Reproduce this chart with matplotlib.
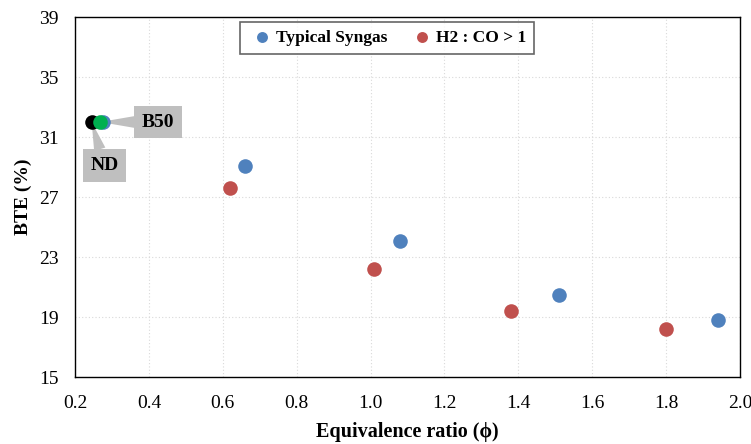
import matplotlib
matplotlib.use("Agg")
import matplotlib.pyplot as plt

typical_x = [0.275, 0.66, 1.08, 1.51, 1.94]
typical_y = [32.0, 29.1, 24.1, 20.5, 18.8]
h2co_x = [0.62, 1.01, 1.38, 1.80]
h2co_y = [27.6, 22.2, 19.4, 18.2]
nd_x, nd_y = [0.245], [32.0]
b50_x, b50_y = [0.268], [32.0]

xticks = [0.2, 0.4, 0.6, 0.8, 1.0, 1.2, 1.4, 1.6, 1.8, 2.0]
yticks = [15, 19, 23, 27, 31, 35, 39]

plt.rcParams['font.family'] = ['Liberation Serif', 'DejaVu Serif']

fig = plt.figure(figsize=(7.51, 4.44), dpi=100)
ax = fig.add_axes([0.0999, 0.1509, 0.8855, 0.8108])

ax.scatter(typical_x, typical_y, s=110, color='#4F81BD', zorder=3, label='Typical Syngas', linewidths=0)
ax.scatter(h2co_x, h2co_y, s=110, color='#C0504D', zorder=3, label='H2 : CO > 1', linewidths=0)
ax.scatter(nd_x, nd_y, s=110, color='black', zorder=4, linewidths=0)
ax.scatter(b50_x, b50_y, s=110, color='#00B050', zorder=5, linewidths=0)

ax.set_xlim(0.2, 2.0)
ax.set_ylim(15, 39)
ax.set_xticks(xticks)
ax.set_xticklabels([f"{v:.1f}" for v in xticks])
ax.set_yticks(yticks)
ax.tick_params(axis='x', length=0, labelsize=14, pad=13)
ax.tick_params(axis='y', length=0, labelsize=14, pad=12)
ax.grid(True, color='#d9d9d9', linestyle=(0, (1, 2)), linewidth=0.8)
ax.set_axisbelow(True)
for s in ax.spines.values():
    s.set_color('black')
    s.set_linewidth(1.0)

ax.set_xlabel('Equivalence ratio (ϕ)', fontsize=14.5, fontweight='bold', labelpad=7)
ax.set_ylabel('BTE (%)', fontsize=14, fontweight='bold', labelpad=5)

box = dict(boxstyle='square,pad=0.4', fc='#bfbfbf', ec='none')
ax.annotate('B50', xy=(b50_x[0], b50_y[0]), xytext=(0.425, 32.0), fontsize=14, fontweight='bold',
            ha='center', va='center', bbox=box, zorder=2,
            arrowprops=dict(arrowstyle='wedge,tail_width=0.6,shrink_factor=0.5', fc='#bfbfbf', ec='none', shrinkA=0, shrinkB=0))
ax.annotate('ND', xy=(nd_x[0], nd_y[0]), xytext=(0.28, 29.1), fontsize=14, fontweight='bold',
            ha='center', va='center', bbox=box, zorder=2,
            arrowprops=dict(arrowstyle='wedge,tail_width=0.6,shrink_factor=0.5', fc='#bfbfbf', ec='none', shrinkA=0, shrinkB=0))

leg = ax.legend(loc='upper center', bbox_to_anchor=(0.469, 0.986), borderaxespad=0, ncol=2, frameon=True,
                fancybox=False, prop={'weight': 'bold', 'size': 12.5}, handletextpad=0.0, columnspacing=1.2,
                markerscale=0.75, borderpad=0.45, handlelength=1.6)
leg.get_frame().set_edgecolor('#404040')
leg.get_frame().set_linewidth(1.2)

fig.savefig('out.png', dpi=100)
